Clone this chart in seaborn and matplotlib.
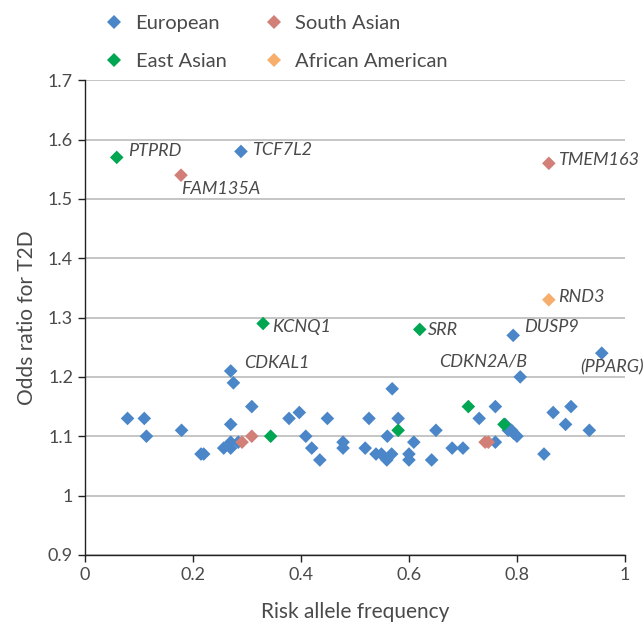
import pandas as pd
import matplotlib
matplotlib.use("Agg")
import matplotlib.pyplot as plt
import seaborn as sns

# risk allele frequency / odds ratio, by population
eur_freq = [0.079, 0.11, 0.114, 0.179, 0.215, 0.22, 0.27, 0.275, 0.309, 0.27,
            0.257, 0.27, 0.27, 0.284, 0.289, 0.378, 0.397, 0.409, 0.42, 0.435,
            0.449, 0.478, 0.478, 0.519, 0.526, 0.539, 0.549, 0.559, 0.568, 0.56,
            0.569, 0.58, 0.60, 0.60, 0.609, 0.65, 0.642, 0.68, 0.70, 0.73,
            0.76, 0.76, 0.778, 0.784, 0.79, 0.794, 0.80, 0.806, 0.793, 0.85,
            0.867, 0.89, 0.90, 0.934, 0.957]
eur_or = [1.13, 1.13, 1.10, 1.11, 1.07, 1.07, 1.21, 1.19, 1.15, 1.12,
          1.08, 1.08, 1.09, 1.09, 1.58, 1.13, 1.14, 1.10, 1.08, 1.06,
          1.13, 1.09, 1.08, 1.08, 1.13, 1.07, 1.07, 1.06, 1.07, 1.10,
          1.18, 1.13, 1.07, 1.06, 1.09, 1.11, 1.06, 1.08, 1.08, 1.13,
          1.09, 1.15, 1.12, 1.11, 1.11, 1.105, 1.10, 1.20, 1.27, 1.07,
          1.14, 1.12, 1.15, 1.11, 1.24]
sas_freq = [0.178, 0.291, 0.309, 0.741, 0.747, 0.859]
sas_or = [1.54, 1.09, 1.10, 1.09, 1.09, 1.56]
eas_freq = [0.059, 0.33, 0.344, 0.58, 0.62, 0.71, 0.776]
eas_or = [1.57, 1.29, 1.10, 1.11, 1.28, 1.15, 1.12]
afr_freq = [0.859]
afr_or = [1.33]

# labelled loci: name, frequency, odds ratio
genes = ["PTPRD", "TCF7L2", "FAM135A", "TMEM163", "RND3", "KCNQ1", "SRR",
         "DUSP9", "CDKN2A/B", "(PPARG)", "CDKAL1"]
gene_freq = [0.059, 0.289, 0.178, 0.859, 0.859, 0.33, 0.62, 0.793, 0.806, 0.957, 0.27]
gene_or = [1.57, 1.58, 1.54, 1.56, 1.33, 1.29, 1.28, 1.27, 1.20, 1.24, 1.21]
# label placement (pixels) and alignment
label_pos = [(11, 6, "left"), (11, 1, "left"), (0, -14, "left"), (9, 3, "left"),
             (9, 3, "left"), (9, -3, "left"), (8, -1, "left"), (11, 8, "left"),
             (7, 15, "right"), (10, -14, "center"), (13, 8, "left")]

pops = ["European", "East Asian", "South Asian", "African American"]
palette = {"European": "#4a86c8", "South Asian": "#d27f78",
           "East Asian": "#00a651", "African American": "#f6ae6c"}

df = pd.concat([
    pd.DataFrame({"freq": eur_freq, "OR": eur_or, "pop": "European"}),
    pd.DataFrame({"freq": eas_freq, "OR": eas_or, "pop": "East Asian"}),
    pd.DataFrame({"freq": sas_freq, "OR": sas_or, "pop": "South Asian"}),
    pd.DataFrame({"freq": afr_freq, "OR": afr_or, "pop": "African American"}),
])

sns.set_style("white")
plt.rcParams["font.family"] = ["Lato", "DejaVu Sans"]

fig = plt.figure(figsize=(6.43, 6.27), dpi=100)
ax = fig.add_axes([0.132, 0.115, 0.840, 0.757])

sns.scatterplot(data=df, x="freq", y="OR", hue="pop", hue_order=pops,
                palette=palette, marker="D", s=48, linewidth=0, ax=ax,
                zorder=3, legend=True)

for g, fx, fy, (dx, dy, ha) in zip(genes, gene_freq, gene_or, label_pos):
    ax.annotate(g, (fx, fy), xytext=(dx, dy), textcoords="offset pixels",
                ha=ha, va="center", style="italic", fontsize=13,
                color="#4a4a4a")

ax.set_xlim(0, 1)
ax.set_ylim(0.9, 1.7)
ax.set_xticks([0, 0.2, 0.4, 0.6, 0.8, 1])
ax.set_xticklabels(["0", "0.2", "0.4", "0.6", "0.8", "1"])
ax.set_yticks([0.9, 1.0, 1.1, 1.2, 1.3, 1.4, 1.5, 1.6, 1.7])
ax.set_yticklabels(["0.9", "1", "1.1", "1.2", "1.3", "1.4", "1.5", "1.6", "1.7"])
ax.yaxis.grid(True, color="#bbbbbb", linewidth=1.2)
ax.set_axisbelow(True)
sns.despine(ax=ax)
for side in ["left", "bottom"]:
    ax.spines[side].set_color("#222222")
    ax.spines[side].set_linewidth(1.0)
ax.tick_params(axis="both", direction="out", length=5, width=1, color="#222222",
               labelsize=13, labelcolor="#4a4a4a", left=True, bottom=True)
ax.set_xlabel("Risk allele frequency", fontsize=15, color="#4a4a4a", labelpad=14)
ax.set_ylabel("Odds ratio for T2D", fontsize=15, color="#4a4a4a", labelpad=8)

handles, labels = ax.get_legend_handles_labels()
ax.get_legend().remove()
fig.legend(handles, labels, ncol=2, frameon=False, loc="upper left",
           bbox_to_anchor=(0.134, 1.005), fontsize=14.5, labelcolor="#4a4a4a",
           handlelength=1.0, handletextpad=0.55, columnspacing=1.85,
           labelspacing=1.05, markerscale=1.0)

fig.savefig("out.png", dpi=100)
